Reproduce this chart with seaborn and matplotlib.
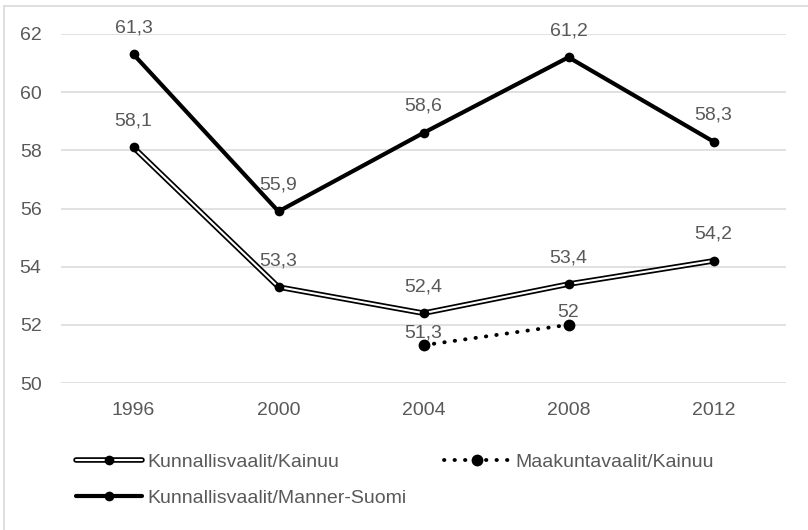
import numpy as np
import pandas as pd
import matplotlib
matplotlib.use('Agg')
import matplotlib.pyplot as plt
import seaborn as sns
from matplotlib.lines import Line2D
from matplotlib.legend_handler import HandlerTuple

years = ['1996', '2000', '2004', '2008', '2012']
kainuu = [58.1, 53.3, 52.4, 53.4, 54.2]
manner = [61.3, 55.9, 58.6, 61.2, 58.3]
maakunta_years = ['2004', '2008']
maakunta = [51.3, 52.0]

labels = ['Kunnallisvaalit/Kainuu', 'Kunnallisvaalit/Manner-Suomi', 'Maakuntavaalit/Kainuu']

sns.set_theme(style='white')
plt.rcParams['font.family'] = ['Liberation Sans Narrow', 'Liberation Sans', 'DejaVu Sans']
grey = '#595959'

fig = plt.figure(figsize=(8.08, 5.30), dpi=100)
ax = fig.add_axes([61 / 808, 1 - 383 / 530, 725 / 808, (383 - 34) / 530])

pos = np.arange(len(years))
df_k = pd.DataFrame({'x': pos, 'y': kainuu})
df_m = pd.DataFrame({'x': pos, 'y': manner})
df_p = pd.DataFrame({'x': [years.index(y) for y in maakunta_years], 'y': maakunta})

# double line for Kainuu
sns.lineplot(data=df_k, x='x', y='y', ax=ax, color='black', lw=4.0, zorder=3)
sns.lineplot(data=df_k, x='x', y='y', ax=ax, color='white', lw=1.5, zorder=4)
sns.lineplot(data=df_k, x='x', y='y', ax=ax, color='black', lw=0, marker='o',
             markersize=7, markeredgewidth=0, zorder=5)

sns.lineplot(data=df_m, x='x', y='y', ax=ax, color='black', lw=3, marker='o',
             markersize=7, markeredgewidth=0, zorder=5)

sns.lineplot(data=df_p, x='x', y='y', ax=ax, color='black', lw=2.8, zorder=3,
             linestyle=(0, (0.1, 2.6)), dash_capstyle='round')
sns.lineplot(data=df_p, x='x', y='y', ax=ax, color='black', lw=0, marker='o',
             markersize=8.5, markeredgewidth=0, zorder=5)

def fmt(v):
    s = ('%.1f' % v).replace('.', ',')
    return s[:-2] if s.endswith(',0') else s

for x, v in zip(pos, kainuu):
    ax.annotate(fmt(v), (x, v), xytext=(0, 19), textcoords='offset points',
                ha='center', va='center', fontsize=14, color=grey)
for x, v in zip(pos, manner):
    ax.annotate(fmt(v), (x, v), xytext=(0, 19), textcoords='offset points',
                ha='center', va='center', fontsize=14, color=grey)
for x, v in zip(df_p['x'], maakunta):
    ax.annotate(fmt(v), (x, v), xytext=(0, 9), textcoords='offset points',
                ha='center', va='center', fontsize=14, color=grey)

ax.set_xlim(-0.5, len(years) - 0.5)
ax.set_ylim(50, 62)
ax.set_yticks(np.arange(50, 63, 2))
ax.set_xticks(pos)
ax.set_xticklabels(years)
ax.set_xlabel('')
ax.set_ylabel('')
ax.tick_params(axis='both', colors=grey, labelsize=14, length=0)
ax.tick_params(axis='y', pad=14)
ax.tick_params(axis='x', pad=14)
ax.grid(axis='y', color='#d9d9d9', lw=1.1)
ax.set_axisbelow(True)
for s in ax.spines.values():
    s.set_visible(False)
if ax.get_legend():
    ax.get_legend().remove()

h_k = (Line2D([], [], color='black', lw=4.0),
       Line2D([], [], color='white', lw=1.5),
       Line2D([], [], color='black', lw=0, marker='o', markersize=7, markeredgewidth=0))
h_m = Line2D([], [], color='black', lw=3, marker='o', markersize=7, markeredgewidth=0)
h_p = (Line2D([], [], color='black', lw=2.8, linestyle=(0, (0.1, 2.6)), dash_capstyle='round'),
       Line2D([], [], color='black', lw=0, marker='o', markersize=8.5, markeredgewidth=0))

leg = fig.legend([h_k, h_m, h_p], labels, ncol=2, loc='upper left',
                 bbox_to_anchor=(58 / 808, 1 - 436 / 530), frameon=False,
                 handler_map={tuple: HandlerTuple(ndivide=1)},
                 handlelength=3.4, handletextpad=0.3, columnspacing=1.9,
                 labelspacing=0.95, numpoints=1, fontsize=14, labelcolor=grey)

# chart border (only left/top visible in the reference)
fig.add_artist(Line2D([4 / 808, 4 / 808], [0, 1 - 6 / 530], transform=fig.transFigure,
                      color='#d9d9d9', lw=1.2))
fig.add_artist(Line2D([4 / 808, 1], [1 - 6 / 530, 1 - 6 / 530], transform=fig.transFigure,
                      color='#d9d9d9', lw=1.2))

fig.savefig('out.png', dpi=100)
